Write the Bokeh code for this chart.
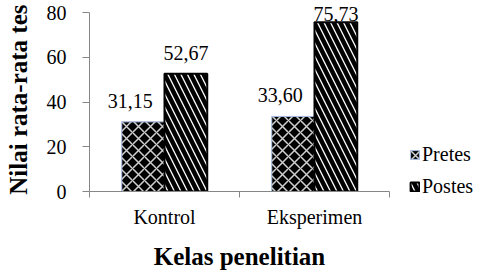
import numpy as np
from bokeh.plotting import figure
from bokeh.models import (ColumnDataSource, FixedTicker, Range1d, LabelSet,
                          Legend, LegendItem)
from bokeh.core.properties import value
from bokeh.embed import file_html
from bokeh.resources import INLINE

categories = ["Kontrol", "Eksperimen"]
pretes = [31.15, 33.60]
postes = [52.67, 75.73]
pretes_labels = ["31,15", "33,60"]
postes_labels = ["52,67", "75,73"]
y_ticks = [0, 20, 40, 60, 80]

FONT = "Liberation Serif"
GREY = "#868686"

xc = np.arange(len(categories)) + 0.5
off = 0.1425
bw = 0.285

def label_y(vals):
    v = np.array(vals)
    return np.minimum(v + 6.3, 76.4)

src_pre = ColumnDataSource(dict(x=xc - off, top=pretes, ly=label_y(pretes), t=pretes_labels))
src_post = ColumnDataSource(dict(x=xc + off, top=postes, ly=label_y(postes), t=postes_labels))

p = figure(frame_width=300, frame_height=190, output_backend="svg", toolbar_location=None,
           x_range=Range1d(0, len(categories)), y_range=Range1d(0, 85),
           min_border_left=89, min_border_right=70, min_border_top=1,
           min_border_bottom=70)
p.outline_line_color = None
p.grid.visible = False

r_pre = p.vbar(x="x", top="top", width=bw, source=src_pre,
               fill_color="black", line_color="#a6bde3", line_width=1,
               hatch_pattern="diagonal_cross", hatch_color="#d0d0d0",
               hatch_scale=12, hatch_weight=1.5)
r_post = p.vbar(x="x", top="top", width=bw, source=src_post,
                fill_color="white", line_color="black", line_width=2,
                hatch_pattern="left_diagonal_line", hatch_color="black",
                hatch_scale=13, hatch_weight=4.5)

for src, xo in ((src_pre, -13), (src_post, 0)):
    p.add_layout(LabelSet(x="x", y="ly", text="t", source=src, x_offset=xo,
                          text_align="center", text_baseline="alphabetic",
                          text_font=value(FONT), text_font_size="20px",
                          text_color="black"))

# x axis
xa = p.xaxis[0]
xa.ticker = FixedTicker(ticks=list(xc), minor_ticks=list(range(len(categories) + 1)))
xa.major_label_overrides = {float(x): c for x, c in zip(xc, categories)}
xa.major_tick_out = 0
xa.major_tick_in = 0
xa.minor_tick_out = 6
xa.minor_tick_in = 0
xa.minor_tick_line_color = GREY
xa.axis_line_color = GREY
xa.major_label_text_font = FONT
xa.major_label_text_font_size = "20px"
xa.major_label_text_color = "black"
xa.major_label_standoff = 8
xa.axis_label = "Kelas penelitian"
xa.axis_label_text_font = FONT
xa.axis_label_text_font_size = "25px"
xa.axis_label_text_font_style = "bold"
xa.axis_label_text_color = "black"
xa.axis_label_standoff = 12

# y axis
ya = p.yaxis[0]
ya.ticker = FixedTicker(ticks=y_ticks, minor_ticks=[])
ya.bounds = (0, 80)
ya.major_tick_out = 7
ya.major_tick_in = 0
ya.major_tick_line_color = GREY
ya.axis_line_color = GREY
ya.major_label_text_font = FONT
ya.major_label_text_font_size = "20px"
ya.major_label_text_color = "black"
ya.major_label_standoff = 16
ya.axis_label = "Nilai  rata-rata tes"
ya.axis_label_text_font = FONT
ya.axis_label_text_font_size = "25px"
ya.axis_label_text_font_style = "bold"
ya.axis_label_text_color = "black"
ya.axis_label_standoff = 12

legend = Legend(items=[LegendItem(label="Pretes", renderers=[r_pre]),
                       LegendItem(label="Postes", renderers=[r_post])],
                location=(20, -7), border_line_color=None,
                background_fill_alpha=0, glyph_width=11, glyph_height=11,
                label_standoff=2, padding=0, margin=0, spacing=9,
                label_text_font=FONT, label_text_font_size="20px",
                label_text_color="black")
p.add_layout(legend, "right")

open("out.html", "w").write(file_html(p, INLINE))
